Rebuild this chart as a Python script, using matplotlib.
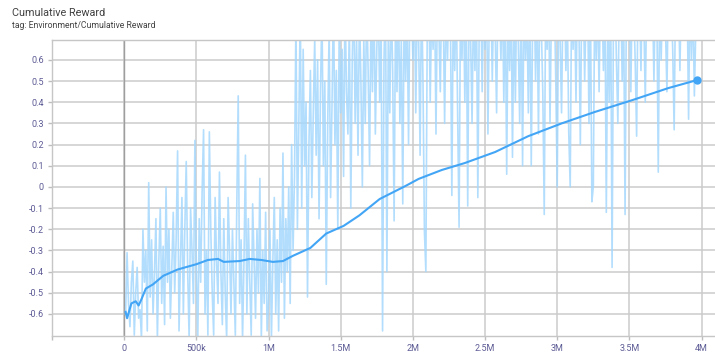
import numpy as np
import matplotlib
matplotlib.use('Agg')
import matplotlib.pyplot as plt
from matplotlib.ticker import FuncFormatter
from matplotlib.patches import Circle

plt.rcParams['font.family'] = ['Roboto', 'DejaVu Sans']

# raw reward, one value every 10k steps starting at 10k (33 values per block)
raw_1 = [-0.60, -0.31, -0.55, -0.66, -0.45, -0.35, -0.70, -0.50, -0.38, -0.62, -0.58,
         -0.72, -0.20, -0.45, -0.30, -0.68, 0.02, -0.52, -0.25, -0.60, -0.40, -0.15,
         -0.72, -0.35, -0.10, -0.55, -0.28, -0.65, 0.00, -0.45, -0.20, -0.62, -0.38]
raw_2 = [-0.12, -0.50, -0.25, 0.17, -0.68, -0.35, -0.05, -0.60, -0.20, 0.12, -0.40,
         -0.72, -0.10, -0.30, -0.55, 0.22, -0.40, -0.72, -0.15, -0.45, -0.02, 0.27,
         -0.60, -0.30, -0.70, 0.26, -0.20, -0.50, -0.70, -0.05, -0.35, -0.55, 0.07]
raw_3 = [-0.40, -0.65, -0.15, -0.50, -0.72, -0.05, -0.30, -0.60, -0.20, -0.45, -0.70,
         -0.10, 0.43, -0.55, -0.25, -0.72, -0.35, 0.15, -0.60, -0.15, -0.45, -0.70,
         -0.08, -0.35, -0.62, -0.20, -0.50, 0.04, -0.72, -0.30, -0.55, -0.12, -0.68]
raw_4 = [-0.55, -0.20, -0.72, -0.35, -0.05, -0.60, -0.25, -0.68, -0.10, -0.45, 0.16,
         -0.62, -0.15, -0.40, 0.00, -0.55, 0.20, -0.30, 0.05, 0.80, -0.20, 0.30,
         0.85, -0.10, 0.65, 0.10, 0.40, -0.52, 0.20, 0.55, -0.05, 0.35, 0.70]
raw_5 = [0.15, 0.60, -0.15, 0.45, 0.85, 0.10, 0.50, -0.46, 0.30, 0.75, -0.05,
         0.40, 0.90, 0.20, 0.55, -0.20, 0.80, 0.35, 0.65, 0.05, 0.90, 0.45,
         0.25, 0.80, -0.10, 0.60, 0.95, 0.30, 0.70, 0.15, 0.85, 0.50, 0.00]
raw_6 = [0.70, 0.30, 0.90, 0.55, 0.10, 0.85, 0.45, 0.95, 0.25, 0.65, 0.90,
         0.40, 0.80, -0.68, 0.60, 0.95, -0.40, 0.75, 0.35, 0.90, 0.55, -0.16,
         0.85, 0.45, 0.95, 0.30, 0.70, -0.08, 0.90, 0.50, 0.85, 0.20, 0.95]
raw_7 = [0.90, 0.60, 0.95, 0.35, 0.85, 0.70, 0.15, 0.95, 0.50, -0.21, -0.40,
         0.80, 0.95, 0.40, 0.85, 0.65, 0.95, 0.25, 0.90, 0.75, 0.45, 0.95,
         0.85, 0.30, 0.90, 0.60, 0.95, 0.80, -0.04, 0.90, 0.55, 0.95, 0.35]
raw_8 = [-0.19, 0.90, 0.60, 0.95, 0.40, 0.85, -0.09, 0.95, 0.70, 0.30, 0.90,
         0.55, 0.95, -0.05, 0.80, 0.95, 0.45, 0.90, 0.65, 0.95, 0.25, 0.85,
         0.95, 0.50, 0.90, 0.75, 0.35, 0.95, 0.85, 0.60, 0.95, 0.40, 0.90]
raw_9 = [0.06, 0.90, 0.55, 0.95, 0.14, 0.85, 0.40, 0.95, 0.70, 0.30, 0.90,
         0.10, 0.95, 0.60, 0.85, 0.35, 0.95, 0.10, 0.80, 0.95, 0.50, 0.90,
         0.25, 0.95, 0.75, 0.45, -0.13, 0.90, 0.65, 0.95, 0.30, 0.85, 0.95]
raw_10 = [0.90, 0.50, 0.00, 0.95, 0.70, 0.35, 0.90, 0.95, 0.55, 0.85, 0.25,
          0.00, 0.95, 0.65, 0.90, 0.40, 0.95, 0.80, 0.20, 0.90, 0.95, 0.50,
          0.85, 0.95, 0.30, 0.90, -0.07, 0.00, 0.95, 0.60, 0.90, 0.45, 0.95]
raw_11 = [0.90, 0.55, 0.95, -0.12, 0.80, 0.40, 0.95, -0.38, 0.85, 0.95, 0.60,
          0.30, 0.90, 0.95, 0.50, 0.85, -0.13, 0.95, 0.70, 0.90, 0.45, 0.95,
          0.85, 0.60, 0.24, 0.95, 0.90, 0.55, 0.95, 0.80, 0.40, 0.90, 0.95]
raw_12 = [0.95, 0.70, 0.90, 0.50, 0.95, 0.85, 0.07, 0.95, 0.60, 0.90, 0.95,
          0.75, 0.45, 0.95, 0.85, 0.90, 0.65, 0.27, 0.95, 0.80, 0.90, 0.55,
          0.95, 0.85, 0.95, 0.70, 0.90, 0.32, 0.95, 0.60, 0.90, 0.43, 0.75]

raw_reward = (raw_1 + raw_2 + raw_3 + raw_4 + raw_5 + raw_6
              + raw_7 + raw_8 + raw_9 + raw_10 + raw_11 + raw_12)
raw_step_size = 10000
raw_steps = (np.arange(len(raw_reward)) + 1) * raw_step_size

# smoothed curve (millions of steps, value)
smooth_steps = [0.01, 0.02, 0.05, 0.08, 0.10, 0.12, 0.15, 0.20, 0.27, 0.37, 0.50,
                0.58, 0.65, 0.69, 0.80, 0.87, 0.95, 1.03, 1.10, 1.17, 1.29, 1.40,
                1.52, 1.63, 1.77, 1.95, 2.04, 2.20, 2.36, 2.57, 2.80, 3.03, 3.26,
                3.52, 3.77, 3.97]
smooth_reward = [-0.59, -0.62, -0.55, -0.54, -0.56, -0.53, -0.48, -0.46, -0.42, -0.39, -0.365,
                 -0.345, -0.34, -0.354, -0.35, -0.34, -0.345, -0.354, -0.35, -0.325, -0.288, -0.22,
                 -0.184, -0.134, -0.057, 0.005, 0.038, 0.08, 0.113, 0.165, 0.24, 0.30, 0.354,
                 0.41, 0.467, 0.505]

x_ticks = [-500000, 0, 500000, 1000000, 1500000, 2000000, 2500000, 3000000, 3500000, 4000000]
y_ticks = [-0.6, -0.5, -0.4, -0.3, -0.2, -0.1, 0, 0.1, 0.2, 0.3, 0.4, 0.5, 0.6]


def fmt_x(v, pos):
    if v < 0:
        return ''
    if v == 0:
        return '0'
    if v < 1e6:
        return '%dk' % (v / 1000)
    return ('%g' % (v / 1e6)) + 'M'


def fmt_y(v, pos):
    if abs(v) < 1e-9:
        return '0'
    return ('%.1f' % v)


fig = plt.figure(figsize=(7.15, 3.56), dpi=100)
ax = fig.add_axes([52 / 715, 20 / 356, 663 / 715, 296 / 356])

ax.plot(raw_steps, raw_reward, color='#a6d8fd', lw=1.2, alpha=0.85, zorder=2)
ax.plot(np.array(smooth_steps) * 1e6, smooth_reward, color='#42a5f5', lw=1.5, zorder=3)
ax.plot(smooth_steps[-1] * 1e6, smooth_reward[-1], 'o', color='#42a5f5', ms=5, zorder=4)

ax.set_xlim(-500000, 4.093e6)
ax.set_ylim(-0.704, 0.694)
ax.set_xticks(x_ticks)
ax.set_yticks(y_ticks)
ax.xaxis.set_major_formatter(FuncFormatter(fmt_x))
ax.yaxis.set_major_formatter(FuncFormatter(fmt_y))

ax.grid(True, color='#cbcbcb', lw=1.1, zorder=0)
ax.set_axisbelow(True)
ax.axvline(0, color='#9e9e9e', lw=1.0, zorder=1)

ax.tick_params(axis='both', labelsize=6.5, labelcolor='#5d5b95', color='#bdbdbd',
               length=3, width=1, pad=3)
for side in ['left', 'top', 'bottom']:
    ax.spines[side].set_color('#c6c6c6')
    ax.spines[side].set_linewidth(1.0)
ax.spines['right'].set_visible(False)

fig.text(12 / 715, 1 - 13 / 356, 'Cumulative Reward', fontsize=7.8, color='#424242', va='center')
fig.text(12 / 715, 1 - 26 / 356, 'tag: Environment/Cumulative Reward', fontsize=6.2,
         color='#424242', va='center')

# partly hidden round button at bottom left
fig.patches.append(Circle((25 / 715, -12 / 356), 0.028, transform=fig.transFigure,
                          color='#9e9e9e', clip_on=False))

fig.savefig('out.png', dpi=100)
